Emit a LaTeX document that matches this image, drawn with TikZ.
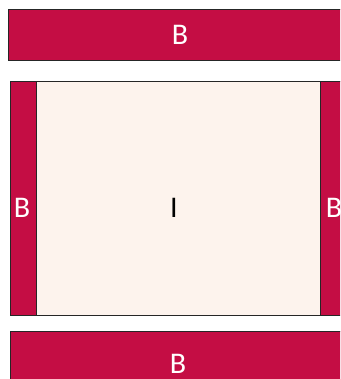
\documentclass[tikz,border=0pt]{standalone}
\usepackage{fontspec}
\setmainfont{Carlito}
\definecolor{bcrimson}{RGB}{196,13,68}
\definecolor{icream}{RGB}{253,243,237}
\tikzset{
  bbar/.style={draw=black!85,line width=.9pt,fill=bcrimson,text=white,inner sep=0pt,font=\fontsize{30}{30}\selectfont},
  ibox/.style={draw=black!85,line width=.9pt,fill=icream,text=black,inner sep=0pt,font=\fontsize{30}{30}\selectfont}
}
\begin{document}
\begin{tikzpicture}[x=1pt,y=-1pt]
\useasboundingbox (0,0) rectangle (340,379);
\clip (0,0) rectangle (340,379);
\node[bbar,minimum width=344pt,minimum height=51pt] (top) at (180,34.5) {B};
\node[bbar,minimum width=26pt,minimum height=234pt] (left) at (23,198) {};
\node[bbar,minimum width=26pt,minimum height=234pt] (right) at (333,198) {};
\node[ibox,minimum width=284pt,minimum height=234pt] (inner) at (178,198) {};
\node[bbar,minimum width=336pt,minimum height=66pt] (bottom) at (178,364) {B};
\node[white,font=\fontsize{30}{30}\selectfont] (lefttxt) at (22,208) {B};
\node[white,font=\fontsize{30}{30}\selectfont] (righttxt) at (334,208) {B};
\node[font=\fontsize{30}{30}\selectfont] (itxt) at (174,208) {I};
\end{tikzpicture}
\end{document}
